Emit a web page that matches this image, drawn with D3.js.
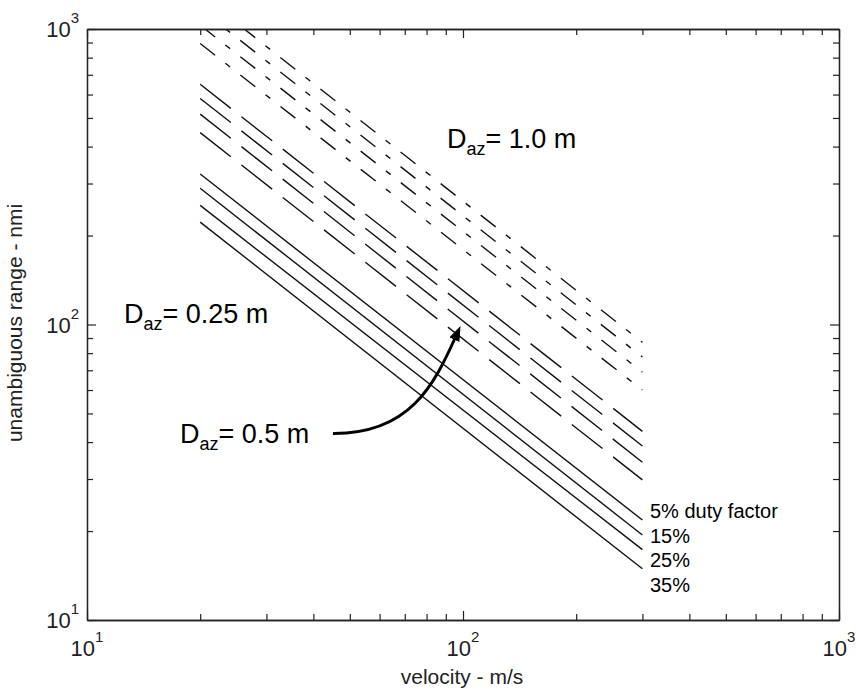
<!DOCTYPE html>
<html>
<head>
<meta charset="utf-8">
<script src="https://cdn.jsdelivr.net/npm/d3@7"></script>
<style>
body { margin: 0; background: #fff; }
svg { font-family: "Liberation Sans", Arial, Helvetica, sans-serif; }
</style>
</head>
<body>
<svg id="svg1" width="856" height="694"></svg>
<script>
// velocity end points of every curve (m/s)
var velocity = [20, 300];
var dutyLabels = ['5% duty factor', '15%', '25%', '35%'];

// unambiguous range (nmi) at v = 20 and v = 300, one pair per duty factor
var rangeD025 = [[323, 21.8], [289, 19.4], [253, 17.3], [222, 14.9]];
var rangeD050 = [[650, 43.5], [582, 38.8], [515, 34.2], [446, 29.8]];
var rangeD100 = [[1310, 87], [1170, 77.6], [1030, 69], [893, 60]];

var decades = [10, 100, 1000];
var exponents = ['1', '2', '3'];

var svg = d3.select('svg');

// plot box (note: "top" is a reserved window property, so use plot*)
var plotLeft = 87, plotRight = 839, plotTop = 29, plotBottom = 620;

var x = d3.scaleLog().domain([10, 1000]).range([plotLeft, plotRight]);
var y = d3.scaleLog().domain([10, 1000]).range([plotBottom, plotTop]);

svg.append('rect')
    .attr('width', 856).attr('height', 694)
    .attr('fill', 'white');

// clip lines to the plot box
svg.append('clipPath').attr('id', 'plotclip')
    .append('rect')
    .attr('x', plotLeft).attr('y', plotTop)
    .attr('width', plotRight - plotLeft).attr('height', plotBottom - plotTop);

var groups = [
    {data: rangeD025, dash: null},
    {data: rangeD050, dash: '39,13.5'},
    {data: rangeD100, dash: '19,13,6,13'}
];

var line = d3.line()
    .x(function(d){ return x(d[0]); })
    .y(function(d){ return y(d[1]); });

var lineG = svg.append('g').attr('clip-path', 'url(#plotclip)');

groups.forEach(function(g){
    lineG.selectAll(null)
        .data(g.data)
        .enter()
        .append('path')
        .attr('d', function(d){
            return line(velocity.map(function(v, i){ return [v, d[i]]; }));
        })
        .attr('fill', 'none')
        .attr('stroke', '#111')
        .attr('stroke-width', 1.4)
        .attr('stroke-dasharray', g.dash);
});

// axes: all ticks point inward, majors a bit longer
var allTicks = x.ticks();
var minorTicks = allTicks.filter(function(t){ return decades.indexOf(t) < 0; });

function drawAxis(axisFn, scale, ticks, size, transform){
    svg.append('g')
        .attr('transform', transform)
        .call(axisFn(scale).tickValues(ticks).tickSizeInner(size).tickSizeOuter(0).tickFormat(''))
        .call(function(g){
            g.select('.domain').attr('stroke', '#222').attr('stroke-width', 1.3);
            g.selectAll('.tick line').attr('stroke', '#222').attr('stroke-width', 1.2);
        });
}

drawAxis(d3.axisBottom, x, minorTicks, -6, 'translate(0,' + plotBottom + ')');
drawAxis(d3.axisBottom, x, decades, -9, 'translate(0,' + plotBottom + ')');
drawAxis(d3.axisTop, x, minorTicks, -6, 'translate(0,' + plotTop + ')');
drawAxis(d3.axisTop, x, decades, -9, 'translate(0,' + plotTop + ')');
drawAxis(d3.axisLeft, y, minorTicks, -6, 'translate(' + plotLeft + ',0)');
drawAxis(d3.axisLeft, y, decades, -9, 'translate(' + plotLeft + ',0)');
drawAxis(d3.axisRight, y, minorTicks, -6, 'translate(' + plotRight + ',0)');
drawAxis(d3.axisRight, y, decades, -9, 'translate(' + plotRight + ',0)');

// tick labels 10^n
var xLab = svg.selectAll('.xlab')
    .data(decades)
    .enter()
    .append('text')
    .attr('class', 'xlab')
    .attr('x', function(d){ return x(d); })
    .attr('y', 656)
    .attr('text-anchor', 'middle')
    .attr('font-size', 22)
    .attr('fill', '#222')
    .text('10');
xLab.append('tspan')
    .attr('dy', -14)
    .attr('font-size', 15)
    .text(function(d, i){ return exponents[i]; });

var yLab = svg.selectAll('.ylab')
    .data(decades)
    .enter()
    .append('text')
    .attr('class', 'ylab')
    .attr('x', 79)
    .attr('y', function(d){ return y(d) + 8; })
    .attr('text-anchor', 'end')
    .attr('font-size', 22)
    .attr('fill', '#222')
    .text('10');
yLab.append('tspan')
    .attr('dy', -14)
    .attr('font-size', 15)
    .text(function(d, i){ return exponents[i]; });

// axis titles
svg.append('text')
    .attr('x', 462).attr('y', 684)
    .attr('text-anchor', 'middle')
    .attr('font-size', 21)
    .attr('fill', '#222')
    .text('velocity - m/s');

svg.append('text')
    .attr('transform', 'translate(22,323) rotate(-90)')
    .attr('text-anchor', 'middle')
    .attr('font-size', 21)
    .attr('fill', '#222')
    .text('unambiguous range - nmi');

// duty factor labels at the right end of the solid curves
svg.selectAll('.duty')
    .data(dutyLabels)
    .enter()
    .append('text')
    .attr('class', 'duty')
    .attr('x', 650)
    .attr('y', function(d, i){ return 518 + i * 24.6; })
    .attr('font-size', 20)
    .attr('fill', '#000')
    .text(function(d){ return d; });

// aperture annotations
function apertureLabel(px, py, value){
    var t = svg.append('text')
        .attr('x', px).attr('y', py)
        .attr('font-size', 27)
        .attr('fill', '#000');
    t.append('tspan').text('D');
    t.append('tspan').attr('dy', 7).attr('font-size', 18).text('az');
    t.append('tspan').attr('dy', -7).text('= ' + value + ' m');
}
apertureLabel(447, 148, '1.0');
apertureLabel(124, 323, '0.25');
apertureLabel(180, 443, '0.5');

// curved arrow pointing at the dashed set
svg.append('defs').append('marker')
    .attr('id', 'head')
    .attr('viewBox', '0 0 15 11')
    .attr('markerUnits', 'userSpaceOnUse')
    .attr('markerWidth', 15).attr('markerHeight', 11)
    .attr('refX', 4).attr('refY', 5.5)
    .attr('orient', 'auto')
    .append('path')
    .attr('d', 'M0,0 L15,5.5 L0,11 Z')
    .attr('fill', '#000');

svg.append('path')
    .attr('d', 'M333,433.5 C410,434 434,385 456,336')
    .attr('fill', 'none')
    .attr('stroke', '#000')
    .attr('stroke-width', 3)
    .attr('marker-end', 'url(#head)');
</script>
</body>
</html>
